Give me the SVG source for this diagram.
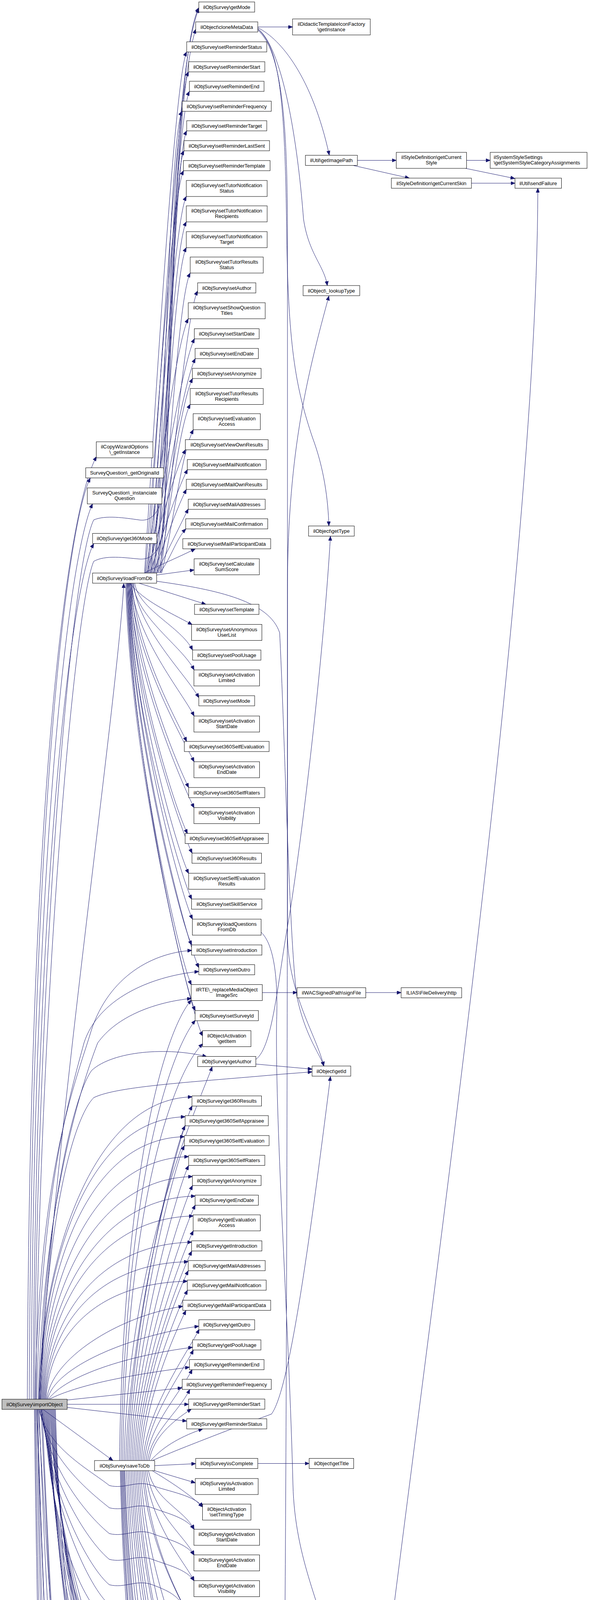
<svg xmlns="http://www.w3.org/2000/svg" width="1508" height="6034" viewBox="0 0 1508 6034">
<style>
.n rect{fill:#fff;stroke:#000;stroke-width:1}
.root rect{fill:#bfbfbf}
text{font-family:"Liberation Sans",Arial,Helvetica,sans-serif;font-size:13px;fill:#000;text-anchor:middle}
.l text{text-anchor:start}
#edges path{fill:none;stroke:#191970;stroke-width:1;marker-end:url(#ah)}
</style>
<defs>
<marker id="ah" markerUnits="userSpaceOnUse" markerWidth="12" markerHeight="9" refX="11" refY="4.5" orient="auto"><path d="M0,0 L11,4.5 L0,9 z" fill="#191970" stroke="#191970" stroke-width="1"/></marker>
</defs>
<rect x="0" y="0" width="1508" height="6034" fill="#fff"/>
<g id="edges">
<path d="M370,1467 C400,1000 448,193 478,133"/>
<path d="M378,1467 C408,1018 453,244 483,184"/>
<path d="M386,1467 C416,1035 455,294 485,234"/>
<path d="M394,1467 C424,1053 436,345 466,285"/>
<path d="M402,1467 C432,1071 448,395 478,335"/>
<path d="M410,1467 C440,1089 441,446 471,386"/>
<path d="M372,1467 C402,1106 440,497 470,437"/>
<path d="M380,1467 C410,1130 447,563 477,503"/>
<path d="M388,1467 C418,1152 447,628 477,568"/>
<path d="M396,1467 C426,1175 447,694 477,634"/>
<path d="M404,1467 C434,1198 457,759 487,699"/>
<path d="M412,1467 C442,1216 476,805 506,745"/>
<path d="M374,1467 C404,1239 452,876 482,816"/>
<path d="M382,1467 C412,1257 468,927 498,867"/>
<path d="M390,1467 C420,1275 470,978 500,918"/>
<path d="M398,1467 C428,1293 463,1029 493,969"/>
<path d="M406,1467 C436,1316 457,1095 487,1035"/>
<path d="M414,1467 C444,1339 465,1160 495,1100"/>
<path d="M376,1467 C406,1357 445,1211 475,1151"/>
<path d="M384,1467 C414,1374 450,1262 480,1202"/>
<path d="M392,1467 C422,1392 447,1313 477,1253"/>
<path d="M400,1467 C430,1410 452,1363 482,1303"/>
<path d="M408,1467 C433,1440 451,1379 476,1354"/>
<path d="M370,1467 C400,1450 450,1430 500,1405"/>
<path d="M401,1472 L497,1459"/>
<path d="M356,1493 L527,1547"/>
<path d="M332,1493 C370,1540 430,1565 492,1599"/>
<path d="M345,1493 C355,1561 463,1604 493,1664"/>
<path d="M340,1493 C350,1582 467,1655 497,1715"/>
<path d="M342,1493 C352,1608 479,1730 509,1786"/>
<path d="M336,1493 C346,1629 467,1773 497,1833"/>
<path d="M338,1493 C348,1655 448,1838 478,1898"/>
<path d="M334,1493 C344,1676 467,1890 497,1950"/>
<path d="M336,1493 C346,1702 453,1956 483,2016"/>
<path d="M332,1493 C342,1723 467,2008 497,2068"/>
<path d="M334,1493 C344,1749 450,2074 480,2134"/>
<path d="M330,1493 C340,1769 462,2124 492,2184"/>
<path d="M332,1493 C342,1790 453,2176 483,2236"/>
<path d="M328,1493 C338,1816 461,2242 491,2302"/>
<path d="M330,1493 C340,1837 463,2293 493,2353"/>
<path d="M326,1493 C336,1863 461,2359 491,2419"/>
<path d="M328,1493 C338,1883 479,2417 509,2477"/>
<path d="M324,1493 C334,1904 460,2461 490,2521"/>
<path d="M326,1493 C336,1931 470,2527 500,2587"/>
<path d="M322,1493 C332,1957 489,2600 519,2652"/>
<path d="M100,3582 C105,3234 232,2813 492,2808"/>
<path d="M102,3582 C107,3257 214,2864 474,2859"/>
<path d="M104,3582 C109,3280 212,2915 472,2910"/>
<path d="M106,3582 C111,3303 223,2966 483,2961"/>
<path d="M108,3582 C113,3326 233,3017 493,3012"/>
<path d="M110,3582 C115,3348 240,3067 500,3062"/>
<path d="M112,3582 C117,3371 235,3118 495,3113"/>
<path d="M114,3582 C119,3401 231,3185 491,3180"/>
<path d="M116,3582 C121,3424 222,3235 482,3230"/>
<path d="M118,3582 C123,3446 220,3285 480,3280"/>
<path d="M120,3582 C130,3480 300,3370 468,3344"/>
<path d="M122,3582 C140,3500 330,3420 509,3395"/>
<path d="M124,3582 C170,3520 330,3470 493,3449"/>
<path d="M126,3582 C200,3545 330,3520 485,3500"/>
<path d="M172,3584 L466,3553"/>
<path d="M172,3595 L483,3595"/>
<path d="M172,3603 L478,3638"/>
<path d="M322,3739 C332,3376 462,2891 492,2831"/>
<path d="M326,3739 C336,3396 444,2942 474,2882"/>
<path d="M330,3739 C340,3417 442,2993 472,2933"/>
<path d="M334,3739 C344,3437 453,3044 483,2984"/>
<path d="M338,3739 C348,3457 463,3095 493,3035"/>
<path d="M342,3739 C352,3478 470,3145 500,3085"/>
<path d="M346,3739 C356,3504 465,3211 495,3151"/>
<path d="M350,3739 C360,3524 461,3263 491,3203"/>
<path d="M354,3739 C364,3545 452,3313 482,3253"/>
<path d="M358,3739 C368,3565 450,3363 480,3303"/>
<path d="M362,3739 C372,3585 446,3415 476,3355"/>
<path d="M366,3739 C376,3605 480,3463 510,3403"/>
<path d="M370,3739 C380,3626 465,3516 495,3456"/>
<path d="M374,3739 C384,3646 462,3566 492,3506"/>
<path d="M378,3739 C388,3666 456,3617 486,3557"/>
<path d="M382,3739 C392,3680 440,3640 490,3607"/>
<path d="M386,3739 C420,3700 470,3675 519,3658"/>
<path d="M318,3739 C328,3200 520,2800 543,2731"/>
<path d="M314,3739 C324,3100 440,2750 519,2672"/>
<path d="M310,3739 C320,3050 430,2700 500,2612"/>
<path d="M306,3739 C316,3000 420,2640 490,2560"/>
<path d="M390,3739 C480,3700 640,3640 695,3620 C740,3560 790,3200 846,2756"/>
<path d="M396,3752 L501,3747"/>
<path d="M396,3765 L500,3796"/>
<path d="M390,3765 C430,3790 480,3820 519,3858"/>
<path d="M380,3765 C395,3840 472,3865 497,3915"/>
<path d="M376,3765 C391,3873 472,3931 497,3981"/>
<path d="M372,3765 C387,3906 472,3997 497,4047"/>
<path d="M368,3765 C383,3939 446,4062 471,4113"/>
<path d="M364,3765 C379,3964 472,4113 497,4163"/>
<path d="M360,3765 C375,4023 465,4230 490,4281"/>
<path d="M356,3765 C371,4048 453,4281 478,4331"/>
<path d="M352,3765 C367,4073 445,4332 470,4382"/>
<path d="M348,3765 C363,4099 458,4383 483,4433"/>
<path d="M344,3765 C359,4131 457,4448 482,4498"/>
<path d="M340,3765 C355,4165 466,4515 491,4565"/>
<path d="M336,3765 C351,4190 473,4565 498,4615"/>
<path d="M332,3765 C347,4215 473,4616 498,4666"/>
<path d="M328,3765 C343,4241 452,4667 477,4717"/>
<path d="M324,3765 C339,4274 452,4732 477,4782"/>
<path d="M320,3765 C335,4306 452,4798 477,4848"/>
<path d="M318,3765 C333,4339 462,4863 487,4913"/>
<path d="M316,3765 C331,4372 462,4928 487,4978"/>
<path d="M314,3765 C329,4404 464,4994 489,5044"/>
<path d="M312,3765 C327,4437 449,5059 474,5109"/>
<path d="M310,3765 C325,4463 460,5111 485,5161"/>
<path d="M308,3765 C323,4488 453,5161 478,5211"/>
<path d="M110,3608 L289,3739"/>
<path d="M100,3608 C120,3706 230,3763 280,3803 C320,3813 350,3788 390,3803 C430,3818 499,3828 519,3858"/>
<path d="M102,3608 C122,3734 230,3820 280,3860 C320,3870 350,3845 390,3860 C430,3875 477,3885 497,3915"/>
<path d="M104,3608 C124,3767 230,3886 280,3926 C320,3936 350,3911 390,3926 C430,3941 477,3951 497,3981"/>
<path d="M106,3608 C126,3800 230,3952 280,3992 C320,4002 350,3977 390,3992 C430,4007 477,4017 497,4047"/>
<path d="M108,3608 C128,3833 230,4017 280,4057 C320,4067 350,4042 390,4057 C430,4072 451,4082 471,4112"/>
<path d="M110,3608 C130,3858 230,4068 280,4108 C320,4118 350,4093 390,4108 C430,4123 477,4133 497,4163"/>
<path d="M112,3608 C130,3900 200,4100 289,4166 C380,4230 500,4252 673,4252 C710,4252 740,4250 766,4249"/>
<path d="M114,3608 C134,3942 230,4236 280,4276 C320,4286 350,4261 390,4276 C430,4291 458,4301 478,4331"/>
<path d="M116,3608 C136,3967 230,4287 280,4327 C320,4337 350,4312 390,4327 C430,4342 450,4352 470,4382"/>
<path d="M118,3608 C138,3993 230,4338 280,4378 C320,4388 350,4363 390,4378 C430,4393 463,4403 483,4433"/>
<path d="M120,3608 C140,4026 230,4403 280,4443 C320,4453 350,4428 390,4443 C430,4458 462,4468 482,4498"/>
<path d="M122,3608 C142,4059 230,4470 280,4510 C320,4520 350,4495 390,4510 C430,4525 471,4535 491,4565"/>
<path d="M124,3608 C144,4084 230,4520 280,4560 C320,4570 350,4545 390,4560 C430,4575 478,4585 498,4615"/>
<path d="M126,3608 C146,4109 230,4571 280,4611 C320,4621 350,4596 390,4611 C430,4626 478,4636 498,4666"/>
<path d="M128,3608 C148,4162 417,4617 477,4717"/>
<path d="M130,3608 C150,4195 417,4682 477,4782"/>
<path d="M132,3608 C152,4228 417,4748 477,4848"/>
<path d="M134,3608 C154,4260 427,4813 487,4913"/>
<path d="M136,3608 C156,4293 427,4878 487,4978"/>
<path d="M138,3608 C158,4326 429,4944 489,5044"/>
<path d="M140,3608 C160,4358 414,5009 474,5109"/>
<path d="M142,3608 C160,4300 280,4900 385,5055 C430,5120 470,5150 490,5161"/>
<path d="M98,3608 C150,4500 200,5150 300,5190 C380,5220 430,5224 473,5224"/>
<path d="M100,3608 C140,4700 200,5330 400,5344 C460,5348 500,5345 525,5339"/>
<path d="M105,3608 C160,4800 200,5350 300,5385 C380,5395 450,5388 500,5385"/>
<path d="M108,3608 C150,4700 230,5300 284,5473"/>
<path d="M96,3608 C130,4800 200,5550 290,5610 C380,5670 470,5680 537,5690"/>
<path d="M94,3608 C140,5000 210,5600 289,5734"/>
<path d="M92,3608 C120,5000 170,5700 226,5785"/>
<path d="M90,3608 C110,5000 160,5780 237,5838"/>
<path d="M88,3608 C105,5000 150,5830 237,5890"/>
<path d="M96,3608 C110,4700 170,5290 500,5292 C650,5294 705,5240 716,5150 C735,4500 736,2500 736,1500 C737,1150 790,950 842,758"/>
<path d="M100,3582 C140,2900 300,1800 317,1494"/>
<path d="M85,3582 C90,2300 180,1500 240,1392"/>
<path d="M80,3582 C85,2200 175,1420 237,1290"/>
<path d="M75,3582 C80,2100 170,1350 231,1224"/>
<path d="M70,3582 C75,2000 175,1300 247,1169"/>
<path d="M88,3582 C95,2500 180,1450 240,1331 C270,1318 320,1326 356,1331 C390,1336 410,1310 420,1250 C435,900 440,200 509,22"/>
<path d="M92,3582 C100,2600 190,1550 240,1437 C270,1420 320,1428 356,1431 C390,1434 410,1410 420,1350 C435,1000 445,250 501,75"/>
<path d="M90,3582 C100,3000 190,2780 230,2650 C270,2510 380,2440 491,2433"/>
<path d="M94,3582 C105,3050 180,2800 215,2670 C250,2560 380,2500 509,2487"/>
<path d="M98,3582 C110,3100 200,2800 250,2670 C300,2600 400,2565 490,2556"/>
<path d="M102,3582 C115,3100 190,2800 235,2740 C290,2690 430,2680 529,2705"/>
<path d="M104,3582 C120,3100 190,2860 240,2810 C300,2780 500,2770 720,2750 L799,2744"/>
<path d="M395,1366 C440,1150 440,150 509,20"/>
<path d="M660,69 L749,69"/>
<path d="M660,71 C720,100 800,200 843,397"/>
<path d="M660,73 C730,130 765,400 777,560 C790,650 830,680 838,731"/>
<path d="M660,75 C715,120 730,250 734,600 C738,900 760,1000 800,1120 C830,1200 840,1280 842,1346"/>
<path d="M660,77 C720,130 736,300 736,600 L736,2400 C740,2550 810,2650 829,2729"/>
<path d="M915,410.5 L1014.5,410.5"/>
<path d="M904,423.5 L1048,456"/>
<path d="M1194.5,410.5 L1255,410.5"/>
<path d="M1192,431 L1318,457"/>
<path d="M1207,469 L1318.5,469"/>
<path d="M660,5370 C760,5250 860,5100 909,4950 C1010,3950 1375,1600 1377,482"/>
<path d="M401,1488 C560,1510 690,1540 716,1620 C730,1900 740,2400 760,2550 C780,2650 820,2700 829,2729"/>
<path d="M655,2724 L799,2737"/>
<path d="M655,2712 C700,2680 712,2500 740,2350 C780,2100 830,1650 846,1373"/>
<path d="M668,2386 C705,2420 712,2520 708,2620 C705,2900 740,3400 750,3800 C755,4000 830,4120 842,4229"/>
<path d="M671,2541 L760.5,2541"/>
<path d="M936.5,2541 L1027,2541"/>
<path d="M660,3746.5 L791.5,3746.5"/>
<path d="M649,4280.5 L767,4253"/>
<path d="M686.5,4293 L765,4295"/>
<path d="M616,5312.5 C680,5250 712,5100 714,4900 C716,4500 730,4300 767,4248"/>
<path d="M681,5330 L775,5336"/>
<path d="M644,5338.5 C700,5355 760,5365 808,5392"/>
<path d="M654,5389 C690,5400 740,5410 779,5443"/>
<path d="M346,5472.5 C380,5440 430,5410 505,5389"/>
<path d="M409,5472.5 L512,5452"/>
<path d="M416,5493.5 L479,5493.5"/>
<path d="M415,5513 L513.5,5533"/>
<path d="M351,5513.5 C390,5540 450,5565 508,5582"/>
<path d="M337,5513.5 C360,5570 420,5610 500,5633"/>
<path d="M663,5480.5 C700,5450 740,5420 791,5410"/>
<path d="M673,5480.5 C715,5440 735,5370 784,5353"/>
<path d="M682,5502 L767,5507"/>
<path d="M682,5594.5 L774,5594.5"/>
<path d="M682.5,5645.5 L743,5645.5"/>
<path d="M638.5,5752 L777.5,5765"/>
<path d="M638.5,5745 C700,5720 730,5600 735,5500 C738,5440 760,5420 791,5412"/>
<path d="M919.5,5783 L1054,5802"/>
<path d="M360.5,5738 L537,5704"/>
<path d="M360.5,5746.5 L522.5,5746.5"/>
<path d="M360.5,5757 C430,5790 520,5820 620,5830 C800,5840 950,5830 1054,5817"/>
<path d="M360.5,5749 C430,5762 452,5840 509,5890"/>
<path d="M360.5,5751 C440,5772 447,5880 519,5951"/>
<path d="M360.5,5753 C440,5789 442,5950 513.5,6002"/>
<path d="M360.5,5755 C450,5800 560,5810 620,5790 C700,5770 735,5650 740,5550 C742,5500 752,5480 765,5469"/>
<path d="M642,5949.5 L790,5949.5"/>
</g>
<g id="n_importObject" class="n root"><rect x="5" y="3582" width="167" height="26"/><text x="88.5" y="3599.5">ilObjSurvey\importObject</text></g>
<g id="n_getMode" class="n"><rect x="509" y="5" width="143" height="26"/><text x="580.5" y="22.5">ilObjSurvey\getMode</text></g>
<g id="n_cloneMetaData" class="n"><rect x="501" y="56" width="159" height="26"/><text x="580.5" y="73.5">ilObject\cloneMetaData</text></g>
<g id="n_setReminderStatus" class="n"><rect x="478" y="107" width="205" height="26"/><text x="580.5" y="124.5">ilObjSurvey\setReminderStatus</text></g>
<g id="n_setReminderStart" class="n"><rect x="483" y="158" width="195" height="26"/><text x="580.5" y="175.5">ilObjSurvey\setReminderStart</text></g>
<g id="n_setReminderEnd" class="n"><rect x="485" y="208" width="191" height="26"/><text x="580.5" y="225.5">ilObjSurvey\setReminderEnd</text></g>
<g id="n_setReminderFrequency" class="n"><rect x="466.5" y="259" width="228" height="26"/><text x="580.5" y="276.5">ilObjSurvey\setReminderFrequency</text></g>
<g id="n_setReminderTarget" class="n"><rect x="478" y="309" width="205" height="26"/><text x="580.5" y="326.5">ilObjSurvey\setReminderTarget</text></g>
<g id="n_setReminderLastSent" class="n"><rect x="471" y="360" width="219" height="26"/><text x="580.5" y="377.5">ilObjSurvey\setReminderLastSent</text></g>
<g id="n_setReminderTemplate" class="n"><rect x="469.5" y="411" width="222" height="26"/><text x="580.5" y="428.5">ilObjSurvey\setReminderTemplate</text></g>
<g id="n_setTutorNotificationStatus" class="n"><rect x="477" y="462" width="207" height="41"/><text x="580.5" y="479">ilObjSurvey\setTutorNotification</text><text x="580.5" y="493">Status</text></g>
<g id="n_setTutorNotificationRecipients" class="n"><rect x="477" y="527" width="207" height="41"/><text x="580.5" y="544">ilObjSurvey\setTutorNotification</text><text x="580.5" y="558">Recipients</text></g>
<g id="n_setTutorNotificationTarget" class="n"><rect x="477" y="593" width="207" height="41"/><text x="580.5" y="610">ilObjSurvey\setTutorNotification</text><text x="580.5" y="624">Target</text></g>
<g id="n_setTutorResultsStatus" class="n"><rect x="487" y="658" width="187" height="41"/><text x="580.5" y="675">ilObjSurvey\setTutorResults</text><text x="580.5" y="689">Status</text></g>
<g id="n_setAuthor" class="n"><rect x="506" y="724" width="149" height="26"/><text x="580.5" y="741.5">ilObjSurvey\setAuthor</text></g>
<g id="n_setShowQuestionTitles" class="n"><rect x="482" y="775" width="197" height="41"/><text x="580.5" y="792">ilObjSurvey\setShowQuestion</text><text x="580.5" y="806">Titles</text></g>
<g id="n_setStartDate" class="n"><rect x="497.5" y="841.5" width="166" height="26"/><text x="580.5" y="859">ilObjSurvey\setStartDate</text></g>
<g id="n_setEndDate" class="n"><rect x="499.5" y="892" width="162" height="26"/><text x="580.5" y="909.5">ilObjSurvey\setEndDate</text></g>
<g id="n_setAnonymize" class="n"><rect x="492.5" y="943" width="176" height="26"/><text x="580.5" y="960.5">ilObjSurvey\setAnonymize</text></g>
<g id="n_setTutorResultsRecipients" class="n"><rect x="487" y="994.5" width="187" height="41"/><text x="580.5" y="1011.5">ilObjSurvey\setTutorResults</text><text x="580.5" y="1025.5">Recipients</text></g>
<g id="n_setEvaluationAccess" class="n"><rect x="494.5" y="1059" width="172" height="41"/><text x="580.5" y="1076">ilObjSurvey\setEvaluation</text><text x="580.5" y="1090">Access</text></g>
<g id="n_setViewOwnResults" class="n"><rect x="474.5" y="1125.5" width="212" height="26"/><text x="580.5" y="1143">ilObjSurvey\setViewOwnResults</text></g>
<g id="n_setMailNotification" class="n"><rect x="479.5" y="1176.5" width="202" height="26"/><text x="580.5" y="1194">ilObjSurvey\setMailNotification</text></g>
<g id="n_setMailOwnResults" class="n"><rect x="477" y="1227" width="207" height="26"/><text x="580.5" y="1244.5">ilObjSurvey\setMailOwnResults</text></g>
<g id="n_setMailAddresses" class="n"><rect x="482" y="1278" width="197" height="26"/><text x="580.5" y="1295.5">ilObjSurvey\setMailAddresses</text></g>
<g id="n_setMailConfirmation" class="n"><rect x="475.5" y="1328" width="210" height="26"/><text x="580.5" y="1345.5">ilObjSurvey\setMailConfirmation</text></g>
<g id="n_setMailParticipantData" class="n"><rect x="468" y="1379" width="225" height="26"/><text x="580.5" y="1396.5">ilObjSurvey\setMailParticipantData</text></g>
<g id="n_setCalculateSumScore" class="n"><rect x="497" y="1430.5" width="167" height="41"/><text x="580.5" y="1447.5">ilObjSurvey\setCalculate</text><text x="580.5" y="1461.5">SumScore</text></g>
<g id="n_setTemplate" class="n"><rect x="498" y="1547" width="165" height="26"/><text x="580.5" y="1564.5">ilObjSurvey\setTemplate</text></g>
<g id="n_setAnonymousUserList" class="n"><rect x="490.5" y="1598.5" width="180" height="41"/><text x="580.5" y="1615.5">ilObjSurvey\setAnonymous</text><text x="580.5" y="1629.5">UserList</text></g>
<g id="n_setPoolUsage" class="n"><rect x="493" y="1664" width="175" height="26"/><text x="580.5" y="1681.5">ilObjSurvey\setPoolUsage</text></g>
<g id="n_setActivationLimited" class="n"><rect x="496.5" y="1715" width="168" height="41"/><text x="580.5" y="1732">ilObjSurvey\setActivation</text><text x="580.5" y="1746">Limited</text></g>
<g id="n_setMode" class="n"><rect x="509" y="1781" width="143" height="26"/><text x="580.5" y="1798.5">ilObjSurvey\setMode</text></g>
<g id="n_setActivationStartDate" class="n"><rect x="496.5" y="1833" width="168" height="41"/><text x="580.5" y="1850">ilObjSurvey\setActivation</text><text x="580.5" y="1864">StartDate</text></g>
<g id="n_set360SelfEvaluation" class="n"><rect x="472" y="1898" width="217" height="26"/><text x="580.5" y="1915.5">ilObjSurvey\set360SelfEvaluation</text></g>
<g id="n_setActivationEndDate" class="n"><rect x="496.5" y="1950" width="168" height="41"/><text x="580.5" y="1967">ilObjSurvey\setActivation</text><text x="580.5" y="1981">EndDate</text></g>
<g id="n_set360SelfRaters" class="n"><rect x="483" y="2016" width="195" height="26"/><text x="580.5" y="2033.5">ilObjSurvey\set360SelfRaters</text></g>
<g id="n_setActivationVisibility" class="n"><rect x="496.5" y="2067.5" width="168" height="41"/><text x="580.5" y="2084.5">ilObjSurvey\setActivation</text><text x="580.5" y="2098.5">Visibility</text></g>
<g id="n_set360SelfAppraisee" class="n"><rect x="474" y="2133.5" width="213" height="26"/><text x="580.5" y="2151">ilObjSurvey\set360SelfAppraisee</text></g>
<g id="n_set360Results" class="n"><rect x="491.5" y="2184" width="178" height="26"/><text x="580.5" y="2201.5">ilObjSurvey\set360Results</text></g>
<g id="n_setSelfEvaluationResults" class="n"><rect x="483" y="2235.5" width="195" height="41"/><text x="580.5" y="2252.5">ilObjSurvey\setSelfEvaluation</text><text x="580.5" y="2266.5">Results</text></g>
<g id="n_setSkillService" class="n"><rect x="490.5" y="2301.5" width="180" height="26"/><text x="580.5" y="2319">ilObjSurvey\setSkillService</text></g>
<g id="n_loadQuestionsFromDb" class="n"><rect x="492.5" y="2353" width="176" height="41"/><text x="580.5" y="2370">ilObjSurvey\loadQuestions</text><text x="580.5" y="2384">FromDb</text></g>
<g id="n_setIntroduction" class="n"><rect x="490.5" y="2419" width="180" height="26"/><text x="580.5" y="2436.5">ilObjSurvey\setIntroduction</text></g>
<g id="n_setOutro" class="n"><rect x="509" y="2469.5" width="143" height="26"/><text x="580.5" y="2487">ilObjSurvey\setOutro</text></g>
<g id="n_replaceMediaObjectImageSrc" class="n"><rect x="489.5" y="2520.5" width="182" height="41"/><text x="580.5" y="2537.5">ilRTE\_replaceMediaObject</text><text x="580.5" y="2551.5">ImageSrc</text></g>
<g id="n_setSurveyId" class="n"><rect x="499.5" y="2587" width="162" height="26"/><text x="580.5" y="2604.5">ilObjSurvey\setSurveyId</text></g>
<g id="n_getItem" class="n"><rect x="518.5" y="2638.5" width="124" height="41"/><text x="580.5" y="2655.5">ilObjectActivation</text><text x="580.5" y="2669.5">\getItem</text></g>
<g id="n_getAuthor" class="n"><rect x="506" y="2704.5" width="149" height="26"/><text x="580.5" y="2722">ilObjSurvey\getAuthor</text></g>
<g id="n_get360Results" class="n"><rect x="491.5" y="2805.5" width="178" height="26"/><text x="580.5" y="2823">ilObjSurvey\get360Results</text></g>
<g id="n_get360SelfAppraisee" class="n"><rect x="474" y="2856" width="213" height="26"/><text x="580.5" y="2873.5">ilObjSurvey\get360SelfAppraisee</text></g>
<g id="n_get360SelfEvaluation" class="n"><rect x="472" y="2907" width="217" height="26"/><text x="580.5" y="2924.5">ilObjSurvey\get360SelfEvaluation</text></g>
<g id="n_get360SelfRaters" class="n"><rect x="483" y="2957.5" width="195" height="26"/><text x="580.5" y="2975">ilObjSurvey\get360SelfRaters</text></g>
<g id="n_getAnonymize" class="n"><rect x="492.5" y="3009" width="176" height="26"/><text x="580.5" y="3026.5">ilObjSurvey\getAnonymize</text></g>
<g id="n_getEndDate" class="n"><rect x="499.5" y="3059.5" width="162" height="26"/><text x="580.5" y="3077">ilObjSurvey\getEndDate</text></g>
<g id="n_getEvaluationAccess" class="n"><rect x="494.5" y="3110" width="172" height="41"/><text x="580.5" y="3127">ilObjSurvey\getEvaluation</text><text x="580.5" y="3141">Access</text></g>
<g id="n_getIntroduction" class="n"><rect x="490.5" y="3176.5" width="180" height="26"/><text x="580.5" y="3194">ilObjSurvey\getIntroduction</text></g>
<g id="n_getMailAddresses" class="n"><rect x="482" y="3227" width="197" height="26"/><text x="580.5" y="3244.5">ilObjSurvey\getMailAddresses</text></g>
<g id="n_getMailNotification" class="n"><rect x="479.5" y="3277" width="202" height="26"/><text x="580.5" y="3294.5">ilObjSurvey\getMailNotification</text></g>
<g id="n_getMailParticipantData" class="n"><rect x="468" y="3328.5" width="225" height="26"/><text x="580.5" y="3346">ilObjSurvey\getMailParticipantData</text></g>
<g id="n_getOutro" class="n"><rect x="509" y="3378.5" width="143" height="26"/><text x="580.5" y="3396">ilObjSurvey\getOutro</text></g>
<g id="n_getPoolUsage" class="n"><rect x="493" y="3430" width="175" height="26"/><text x="580.5" y="3447.5">ilObjSurvey\getPoolUsage</text></g>
<g id="n_getReminderEnd" class="n"><rect x="485" y="3480.5" width="191" height="26"/><text x="580.5" y="3498">ilObjSurvey\getReminderEnd</text></g>
<g id="n_getReminderFrequency" class="n"><rect x="466.5" y="3531" width="228" height="26"/><text x="580.5" y="3548.5">ilObjSurvey\getReminderFrequency</text></g>
<g id="n_getReminderStart" class="n"><rect x="483" y="3581.5" width="195" height="26"/><text x="580.5" y="3599">ilObjSurvey\getReminderStart</text></g>
<g id="n_getReminderStatus" class="n"><rect x="478" y="3632" width="205" height="26"/><text x="580.5" y="3649.5">ilObjSurvey\getReminderStatus</text></g>
<g id="n_isComplete" class="n"><rect x="501" y="3733.5" width="159" height="26"/><text x="580.5" y="3751">ilObjSurvey\isComplete</text></g>
<g id="n_isActivationLimited" class="n"><rect x="500" y="3785" width="161" height="41"/><text x="580.5" y="3802">ilObjSurvey\isActivation</text><text x="580.5" y="3816">Limited</text></g>
<g id="n_setTimingType" class="n"><rect x="518.5" y="3850.5" width="124" height="41"/><text x="580.5" y="3867.5">ilObjectActivation</text><text x="580.5" y="3881.5">\setTimingType</text></g>
<g id="n_getActivationStartDate" class="n"><rect x="496.5" y="3915" width="168" height="41"/><text x="580.5" y="3932">ilObjSurvey\getActivation</text><text x="580.5" y="3946">StartDate</text></g>
<g id="n_getActivationEndDate" class="n"><rect x="496.5" y="3980.5" width="168" height="41"/><text x="580.5" y="3997.5">ilObjSurvey\getActivation</text><text x="580.5" y="4011.5">EndDate</text></g>
<g id="n_getActivationVisibility" class="n"><rect x="496.5" y="4046.5" width="168" height="41"/><text x="580.5" y="4063.5">ilObjSurvey\getActivation</text><text x="580.5" y="4077.5">Visibility</text></g>
<g id="n_getReminderLastSent" class="n"><rect x="471" y="4112.5" width="219" height="26"/><text x="580.5" y="4130">ilObjSurvey\getReminderLastSent</text></g>
<g id="n_getCalculateSumScore" class="n"><rect x="497" y="4163" width="167" height="41"/><text x="580.5" y="4180">ilObjSurvey\getCalculate</text><text x="580.5" y="4194">SumScore</text></g>
<g id="n_saveQuestionsToDb" class="n"><rect x="474.5" y="4280.5" width="212" height="26"/><text x="580.5" y="4298">ilObjSurvey\saveQuestionsToDb</text></g>
<g id="n_getReminderTarget" class="n"><rect x="478" y="4330.5" width="205" height="26"/><text x="580.5" y="4348">ilObjSurvey\getReminderTarget</text></g>
<g id="n_getReminderTemplate" class="n"><rect x="469.5" y="4381.5" width="222" height="26"/><text x="580.5" y="4399">ilObjSurvey\getReminderTemplate</text></g>
<g id="n_getSelfEvaluationResults" class="n"><rect x="483" y="4432.5" width="195" height="41"/><text x="580.5" y="4449.5">ilObjSurvey\getSelfEvaluation</text><text x="580.5" y="4463.5">Results</text></g>
<g id="n_getShowQuestionTitles" class="n"><rect x="482" y="4498" width="197" height="41"/><text x="580.5" y="4515">ilObjSurvey\getShowQuestion</text><text x="580.5" y="4529">Titles</text></g>
<g id="n_getSkillService" class="n"><rect x="490.5" y="4564.5" width="180" height="26"/><text x="580.5" y="4582">ilObjSurvey\getSkillService</text></g>
<g id="n_getStartDate" class="n"><rect x="497.5" y="4614.5" width="166" height="26"/><text x="580.5" y="4632">ilObjSurvey\getStartDate</text></g>
<g id="n_getTemplate" class="n"><rect x="498" y="4665.5" width="165" height="26"/><text x="580.5" y="4683">ilObjSurvey\getTemplate</text></g>
<g id="n_getTutorNotificationRecipients" class="n"><rect x="477" y="4717" width="207" height="41"/><text x="580.5" y="4734">ilObjSurvey\getTutorNotification</text><text x="580.5" y="4748">Recipients</text></g>
<g id="n_getTutorNotificationStatus" class="n"><rect x="477" y="4782.5" width="207" height="41"/><text x="580.5" y="4799.5">ilObjSurvey\getTutorNotification</text><text x="580.5" y="4813.5">Status</text></g>
<g id="n_getTutorNotificationTarget" class="n"><rect x="477" y="4847.5" width="207" height="41"/><text x="580.5" y="4864.5">ilObjSurvey\getTutorNotification</text><text x="580.5" y="4878.5">Target</text></g>
<g id="n_getTutorResultsRecipients" class="n"><rect x="487" y="4913" width="187" height="41"/><text x="580.5" y="4930">ilObjSurvey\getTutorResults</text><text x="580.5" y="4944">Recipients</text></g>
<g id="n_getTutorResultsStatus" class="n"><rect x="487" y="4978.5" width="187" height="41"/><text x="580.5" y="4995.5">ilObjSurvey\getTutorResults</text><text x="580.5" y="5009.5">Status</text></g>
<g id="n_hasAnonymousUserList" class="n"><rect x="489" y="5043.5" width="183" height="41"/><text x="580.5" y="5060.5">ilObjSurvey\hasAnonymous</text><text x="580.5" y="5074.5">UserList</text></g>
<g id="n_hasMailConfirmation" class="n"><rect x="474" y="5109" width="213" height="26"/><text x="580.5" y="5126.5">ilObjSurvey\hasMailConfirmation</text></g>
<g id="n_hasMailOwnResults" class="n"><rect x="475" y="5160.5" width="211" height="26"/><text x="580.5" y="5178">ilObjSurvey\hasMailOwnResults</text></g>
<g id="n_hasViewOwnResults" class="n"><rect x="473" y="5211" width="215" height="26"/><text x="580.5" y="5228.5">ilObjSurvey\hasViewOwnResults</text></g>
<g id="n_getImportDirectory" class="n"><rect x="480" y="5312.5" width="201" height="26"/><text x="580.5" y="5330">ilObjSurvey\getImportDirectory</text></g>
<g id="n_moveUploadedFile" class="n"><rect x="500" y="5363" width="161" height="26"/><text x="580.5" y="5380.5">ilUtil\moveUploadedFile</text></g>
<g id="n_sanitizeDir" class="n"><rect x="512" y="5414.5" width="137" height="41"/><text x="580.5" y="5431.5">ilMediaSvgSanitizer</text><text x="580.5" y="5445.5">\sanitizeDir</text></g>
<g id="n_getImageSize" class="n"><rect x="479" y="5480.5" width="203" height="26"/><text x="580.5" y="5498">ilMediaImageUtil\getImageSize</text></g>
<g id="n_deducibleSize" class="n"><rect x="513.5" y="5530.5" width="134" height="26"/><text x="580.5" y="5548">ilUtil\deducibleSize</text></g>
<g id="n_getDirectory" class="n"><rect x="479" y="5581.5" width="203" height="26"/><text x="580.5" y="5599">ilObjMediaObject\_getDirectory</text></g>
<g id="n_getMimeType" class="n"><rect x="478.5" y="5632.5" width="204" height="26"/><text x="580.5" y="5650">ilObjMediaObject\getMimeType</text></g>
<g id="n_delDir" class="n"><rect x="537" y="5682.5" width="87" height="26"/><text x="580.5" y="5700">ilUtil\delDir</text></g>
<g id="n_ilTempnam" class="n"><rect x="522.5" y="5733.5" width="116" height="26"/><text x="580.5" y="5751">ilUtil\ilTempnam</text></g>
<g id="n_escapeShellArg" class="n"><rect x="509" y="5885.5" width="143" height="26"/><text x="580.5" y="5903">ilUtil\escapeShellArg</text></g>
<g id="n_execQuoted" class="n"><rect x="519" y="5936.5" width="123" height="26"/><text x="580.5" y="5954">ilUtil\execQuoted</text></g>
<g id="n_recursive_dirscan" class="n"><rect x="513.5" y="5987.5" width="134" height="41"/><text x="580.5" y="6004.5">ilFileUtils\recursive</text><text x="580.5" y="6018.5">_dirscan</text></g>
<g id="n_copyWizardGetInstance" class="n"><rect x="246.5" y="1131" width="145" height="41"/><text x="319" y="1148">ilCopyWizardOptions</text><text x="319" y="1162">\_getInstance</text></g>
<g id="n_getOriginalId" class="n"><rect x="219.5" y="1197.5" width="199" height="26"/><text x="319" y="1215">SurveyQuestion\_getOriginalId</text></g>
<g id="n_instanciateQuestion" class="n"><rect x="223.5" y="1249" width="191" height="41"/><text x="319" y="1266">SurveyQuestion\_instanciate</text><text x="319" y="1280">Question</text></g>
<g id="n_get360Mode" class="n"><rect x="237" y="1365.5" width="164" height="26"/><text x="319" y="1383">ilObjSurvey\get360Mode</text></g>
<g id="n_loadFromDb" class="n"><rect x="237" y="1467" width="164" height="26"/><text x="319" y="1484.5">ilObjSurvey\loadFromDb</text></g>
<g id="n_saveToDb" class="n"><rect x="242" y="3739" width="154" height="26"/><text x="319" y="3756.5">ilObjSurvey\saveToDb</text></g>
<g id="n_saveTempFileAsMediaObject" class="n"><rect x="222" y="5472.5" width="194" height="41"/><text x="319" y="5489.5">ilObjMediaObject\_saveTemp</text><text x="319" y="5503.5">FileAsMediaObject</text></g>
<g id="n_unzip" class="n"><rect x="277.5" y="5733.5" width="83" height="26"/><text x="319" y="5751">ilUtil\unzip</text></g>
<g id="n_saveUsage" class="n"><rect x="219.5" y="5784.5" width="199" height="26"/><text x="319" y="5802">ilObjMediaObject\_saveUsage</text></g>
<g id="n_getOfflineStatus" class="n"><rect x="237" y="5835.5" width="164" height="26"/><text x="319" y="5853">ilObject\getOfflineStatus</text></g>
<g id="n_locateImportFiles" class="n"><rect x="236.5" y="5886" width="165" height="41"/><text x="319" y="5903">ilObjSurvey\locateImport</text><text x="319" y="5917">Files</text></g>
<g id="n_iconFactoryGetInstance" class="n"><rect x="749" y="48.5" width="199" height="41"/><text x="848.5" y="65.5">ilDidacticTemplateIconFactory</text><text x="848.5" y="79.5">\getInstance</text></g>
<g id="n_getImagePath" class="n"><rect x="782" y="397.5" width="133" height="26"/><text x="848.5" y="415">ilUtil\getImagePath</text></g>
<g id="n_lookupType" class="n"><rect x="776" y="731" width="145" height="26"/><text x="848.5" y="748.5">ilObject\_lookupType</text></g>
<g id="n_getType" class="n"><rect x="790" y="1346.5" width="117" height="26"/><text x="848.5" y="1364">ilObject\getType</text></g>
<g id="n_signFile" class="n"><rect x="760.5" y="2528.5" width="176" height="26"/><text x="848.5" y="2546">ilWACSignedPath\signFile</text></g>
<g id="n_getId" class="n"><rect x="799" y="2729" width="99" height="26"/><text x="848.5" y="2746.5">ilObject\getId</text></g>
<g id="n_getTitle" class="n"><rect x="791.5" y="3733.5" width="114" height="26"/><text x="848.5" y="3751">ilObject\getTitle</text></g>
<g id="n_getSurveyId" class="n"><rect x="767" y="4229" width="163" height="26"/><text x="848.5" y="4246.5">ilObjSurvey\getSurveyId</text></g>
<g id="n_isQuestionInSurvey" class="n"><rect x="765" y="4281" width="167" height="41"/><text x="848.5" y="4298">ilObjSurvey\isQuestionIn</text><text x="848.5" y="4312">Survey</text></g>
<g id="n_makeDirParents" class="n"><rect x="775" y="5326.5" width="147" height="26"/><text x="848.5" y="5344">ilUtil\makeDirParents</text></g>
<g id="n_getDataDir" class="n"><rect x="791" y="5392" width="115" height="26"/><text x="848.5" y="5409.5">ilUtil\getDataDir</text></g>
<g id="n_getValidFilename" class="n"><rect x="759" y="5443" width="179" height="26"/><text x="848.5" y="5460.5">ilFileUtils\getValidFilename</text></g>
<g id="n_isCurlExtensionLoaded" class="n"><rect x="767" y="5494" width="163" height="41"/><text x="848.5" y="5511">ilCurlConnection\_isCurl</text><text x="848.5" y="5525">ExtensionLoaded</text></g>
<g id="n_getWebspaceDir" class="n"><rect x="774" y="5581.5" width="149" height="26"/><text x="848.5" y="5599">ilUtil\getWebspaceDir</text></g>
<g id="n_lookupMimeType" class="n"><rect x="743" y="5632.5" width="211" height="26"/><text x="848.5" y="5650">ilMimeTypeUtil\lookupMimeType</text></g>
<g id="n_createDirectory" class="n"><rect x="777.5" y="5759" width="142" height="26"/><text x="848.5" y="5776.5">ilUtil\createDirectory</text></g>
<g id="n_isWindows" class="n"><rect x="790" y="5936.5" width="117" height="26"/><text x="848.5" y="5954">ilUtil\isWindows</text></g>
<g id="n_getCurrentStyle" class="n"><rect x="1014.5" y="390" width="180" height="41"/><text x="1104.5" y="407">ilStyleDefinition\getCurrent</text><text x="1104.5" y="421">Style</text></g>
<g id="n_getCurrentSkin" class="n"><rect x="1002" y="456" width="205" height="26"/><text x="1104.5" y="473.5">ilStyleDefinition\getCurrentSkin</text></g>
<g id="n_http" class="n"><rect x="1027" y="2528.5" width="155" height="26"/><text x="1104.5" y="2546">ILIAS\FileDelivery\http</text></g>
<g id="n_makeDir" class="n"><rect x="1054" y="5796.5" width="101" height="26"/><text x="1104.5" y="5814">ilUtil\makeDir</text></g>
<g id="n_getSystemStyleCategoryAssignments" class="n l"><rect x="1255" y="390" width="248" height="41"/><text x="1264" y="407">ilSystemStyleSettings</text><text x="1264" y="421">\getSystemStyleCategoryAssignments</text></g>
<g id="n_sendFailure" class="n"><rect x="1318.5" y="456" width="119" height="26"/><text x="1378" y="473.5">ilUtil\sendFailure</text></g>
</svg>
